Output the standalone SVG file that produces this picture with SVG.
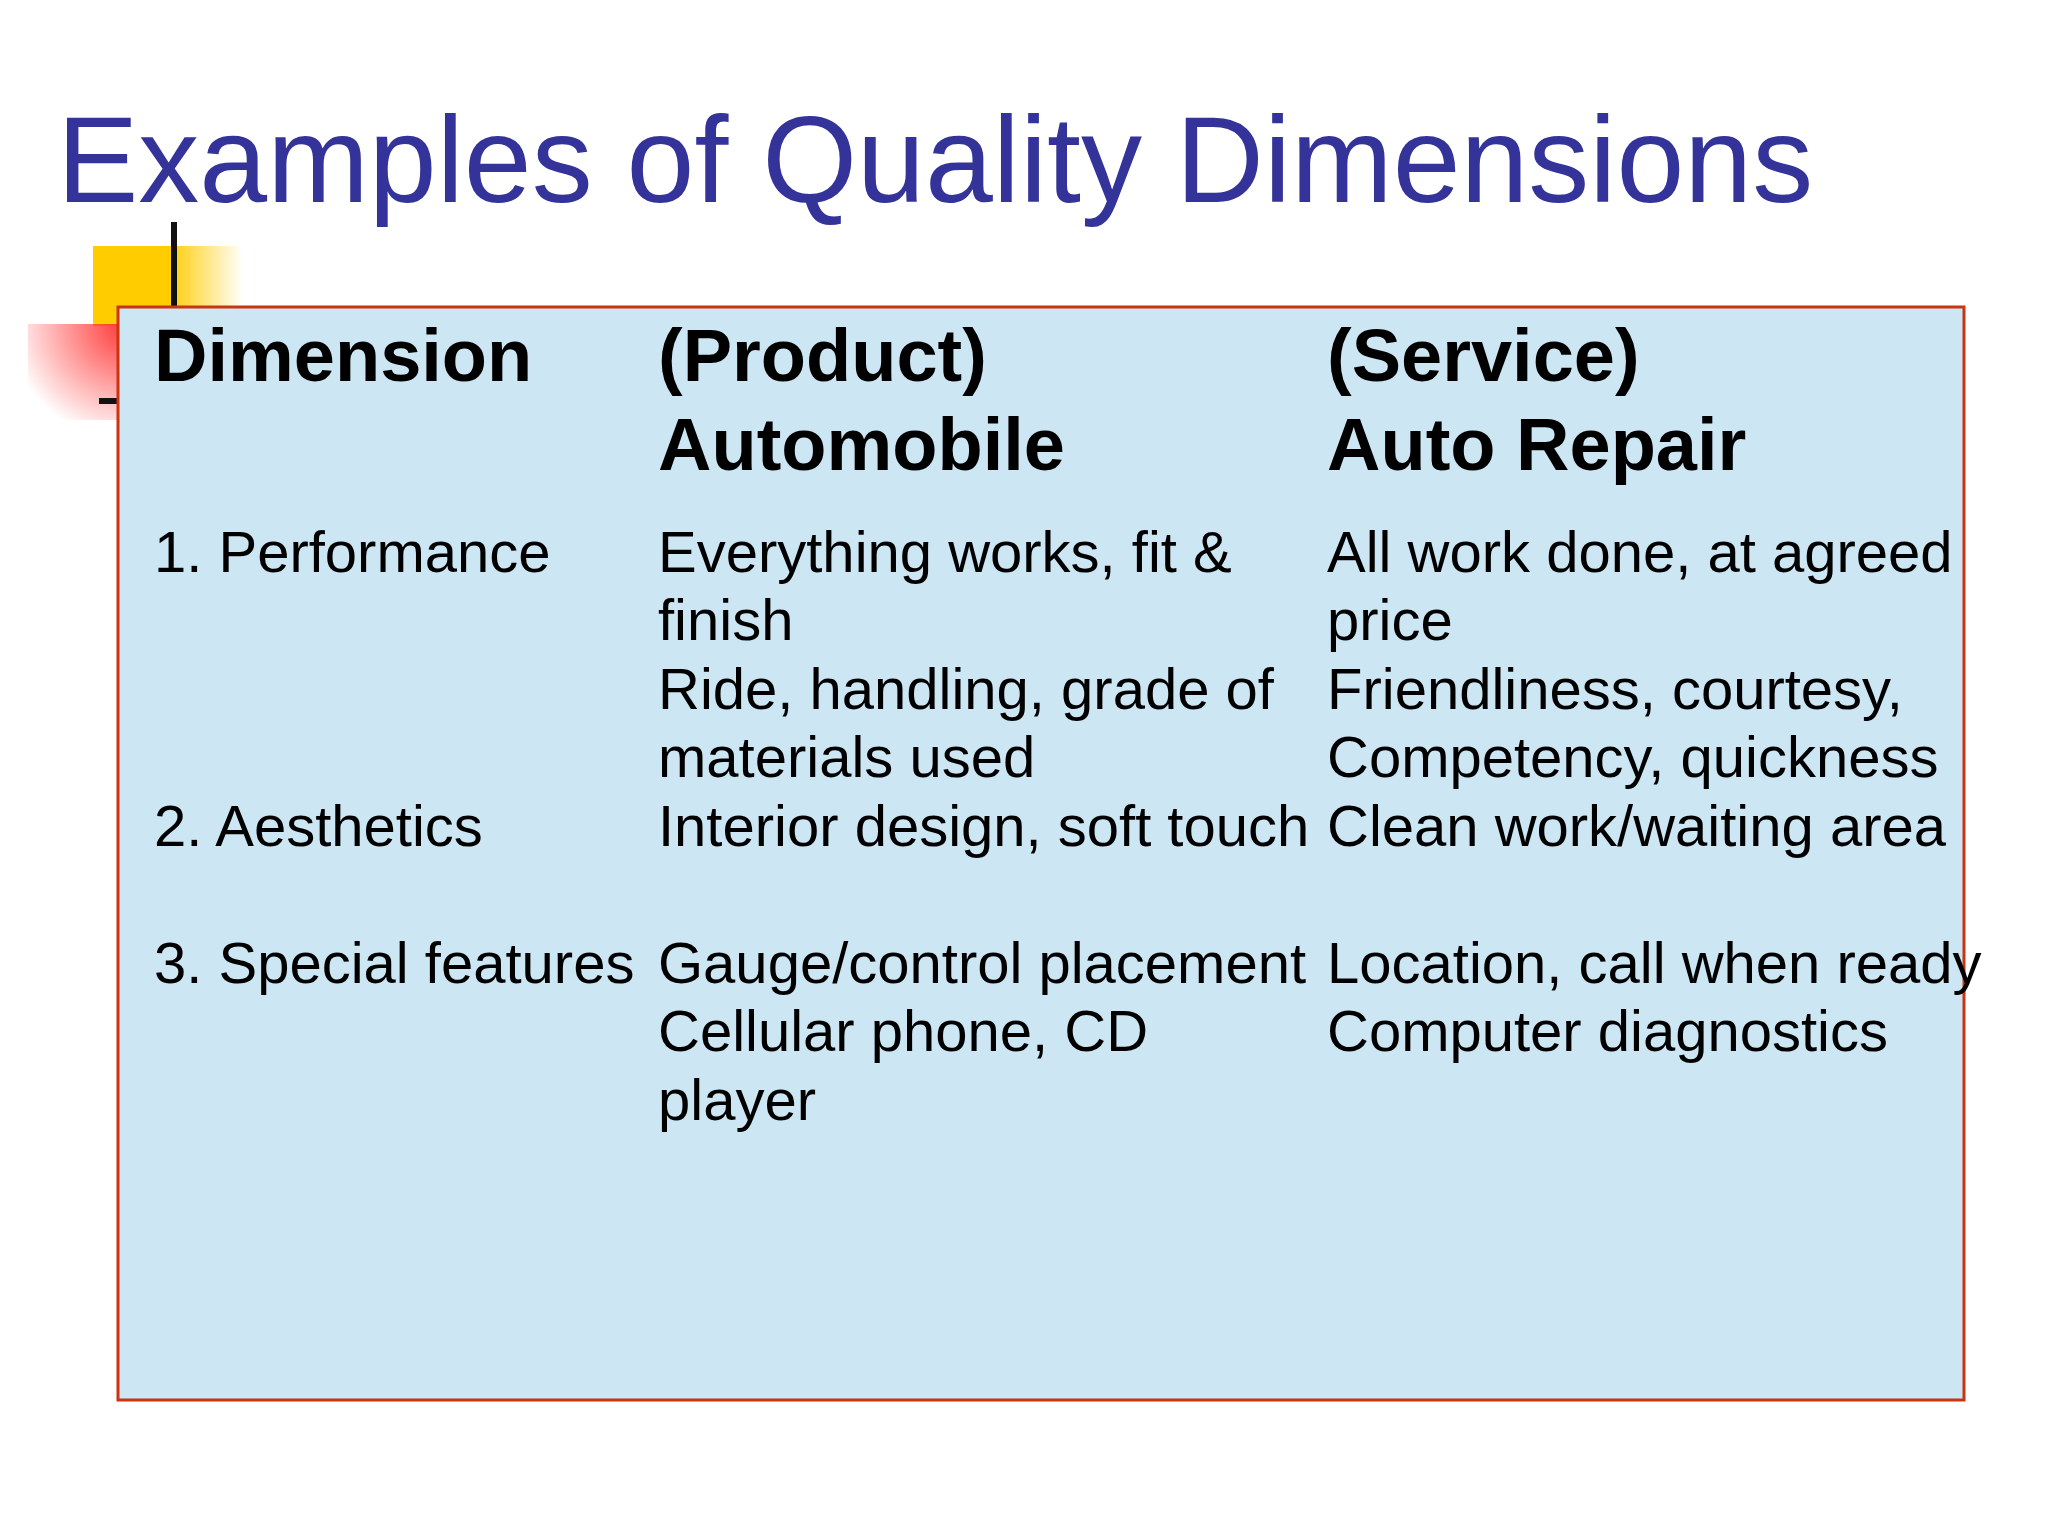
<svg xmlns="http://www.w3.org/2000/svg" width="2048" height="1536" viewBox="0 0 2048 1536">
<defs>
<linearGradient id="yg" x1="0" y1="0" x2="1" y2="0"><stop offset="0.5" stop-color="#ffcc00"/><stop offset="1" stop-color="#ffcc00" stop-opacity="0"/></linearGradient>
<radialGradient id="rg" cx="1" cy="0" r="1.2"><stop offset="0" stop-color="#ff3333"/><stop offset="1" stop-color="#ff3333" stop-opacity="0"/></radialGradient>
<style>
.h{font-family:"Liberation Sans",Arial,sans-serif;font-weight:bold;font-size:74px;fill:#000}
.b{font-family:"Liberation Sans",Arial,sans-serif;font-size:58px;fill:#000}
</style>
</defs>
<rect width="2048" height="1536" fill="#fff"/>
<text x="57" y="202" font-family="Liberation Sans,Arial,sans-serif" font-size="122" fill="#333399">Examples of Quality Dimensions</text>
<g id="decor">
<rect x="93" y="246" width="150" height="80" fill="url(#yg)"/>
<rect x="28" y="324" width="100" height="96" fill="url(#rg)"/>
<line x1="174" y1="222" x2="174" y2="306" stroke="#111" stroke-width="6"/>
<line x1="99" y1="401" x2="118" y2="401" stroke="#111" stroke-width="6"/>
</g>
<g id="table">
<rect x="118" y="307" width="1846" height="1093" fill="#cce6f4" stroke="#cc3311" stroke-width="3"/>
<text class="h" x="154" y="381">Dimension</text>
<text class="h" x="658" y="381">(Product)</text>
<text class="h" x="658" y="470">Automobile</text>
<text class="h" x="1327" y="381">(Service)</text>
<text class="h" x="1327" y="470">Auto Repair</text>
<text class="b" x="154" y="572">1. Performance</text>
<text class="b" x="154" y="846">2. Aesthetics</text>
<text class="b" x="154" y="983">3. Special features</text>
<text class="b" x="658" y="572">Everything works, fit &amp;</text>
<text class="b" x="658" y="640">finish</text>
<text class="b" x="658" y="709">Ride, handling, grade of</text>
<text class="b" x="658" y="777">materials used</text>
<text class="b" x="658" y="846">Interior design, soft touch</text>
<text class="b" x="658" y="983">Gauge/control placement</text>
<text class="b" x="658" y="1051">Cellular phone, CD</text>
<text class="b" x="658" y="1120">player</text>
<text class="b" x="1327" y="572">All work done, at agreed</text>
<text class="b" x="1327" y="640">price</text>
<text class="b" x="1327" y="709">Friendliness, courtesy,</text>
<text class="b" x="1327" y="777">Competency, quickness</text>
<text class="b" x="1327" y="846">Clean work/waiting area</text>
<text class="b" x="1327" y="983">Location, call when ready</text>
<text class="b" x="1327" y="1051">Computer diagnostics</text>
</g>
</svg>
